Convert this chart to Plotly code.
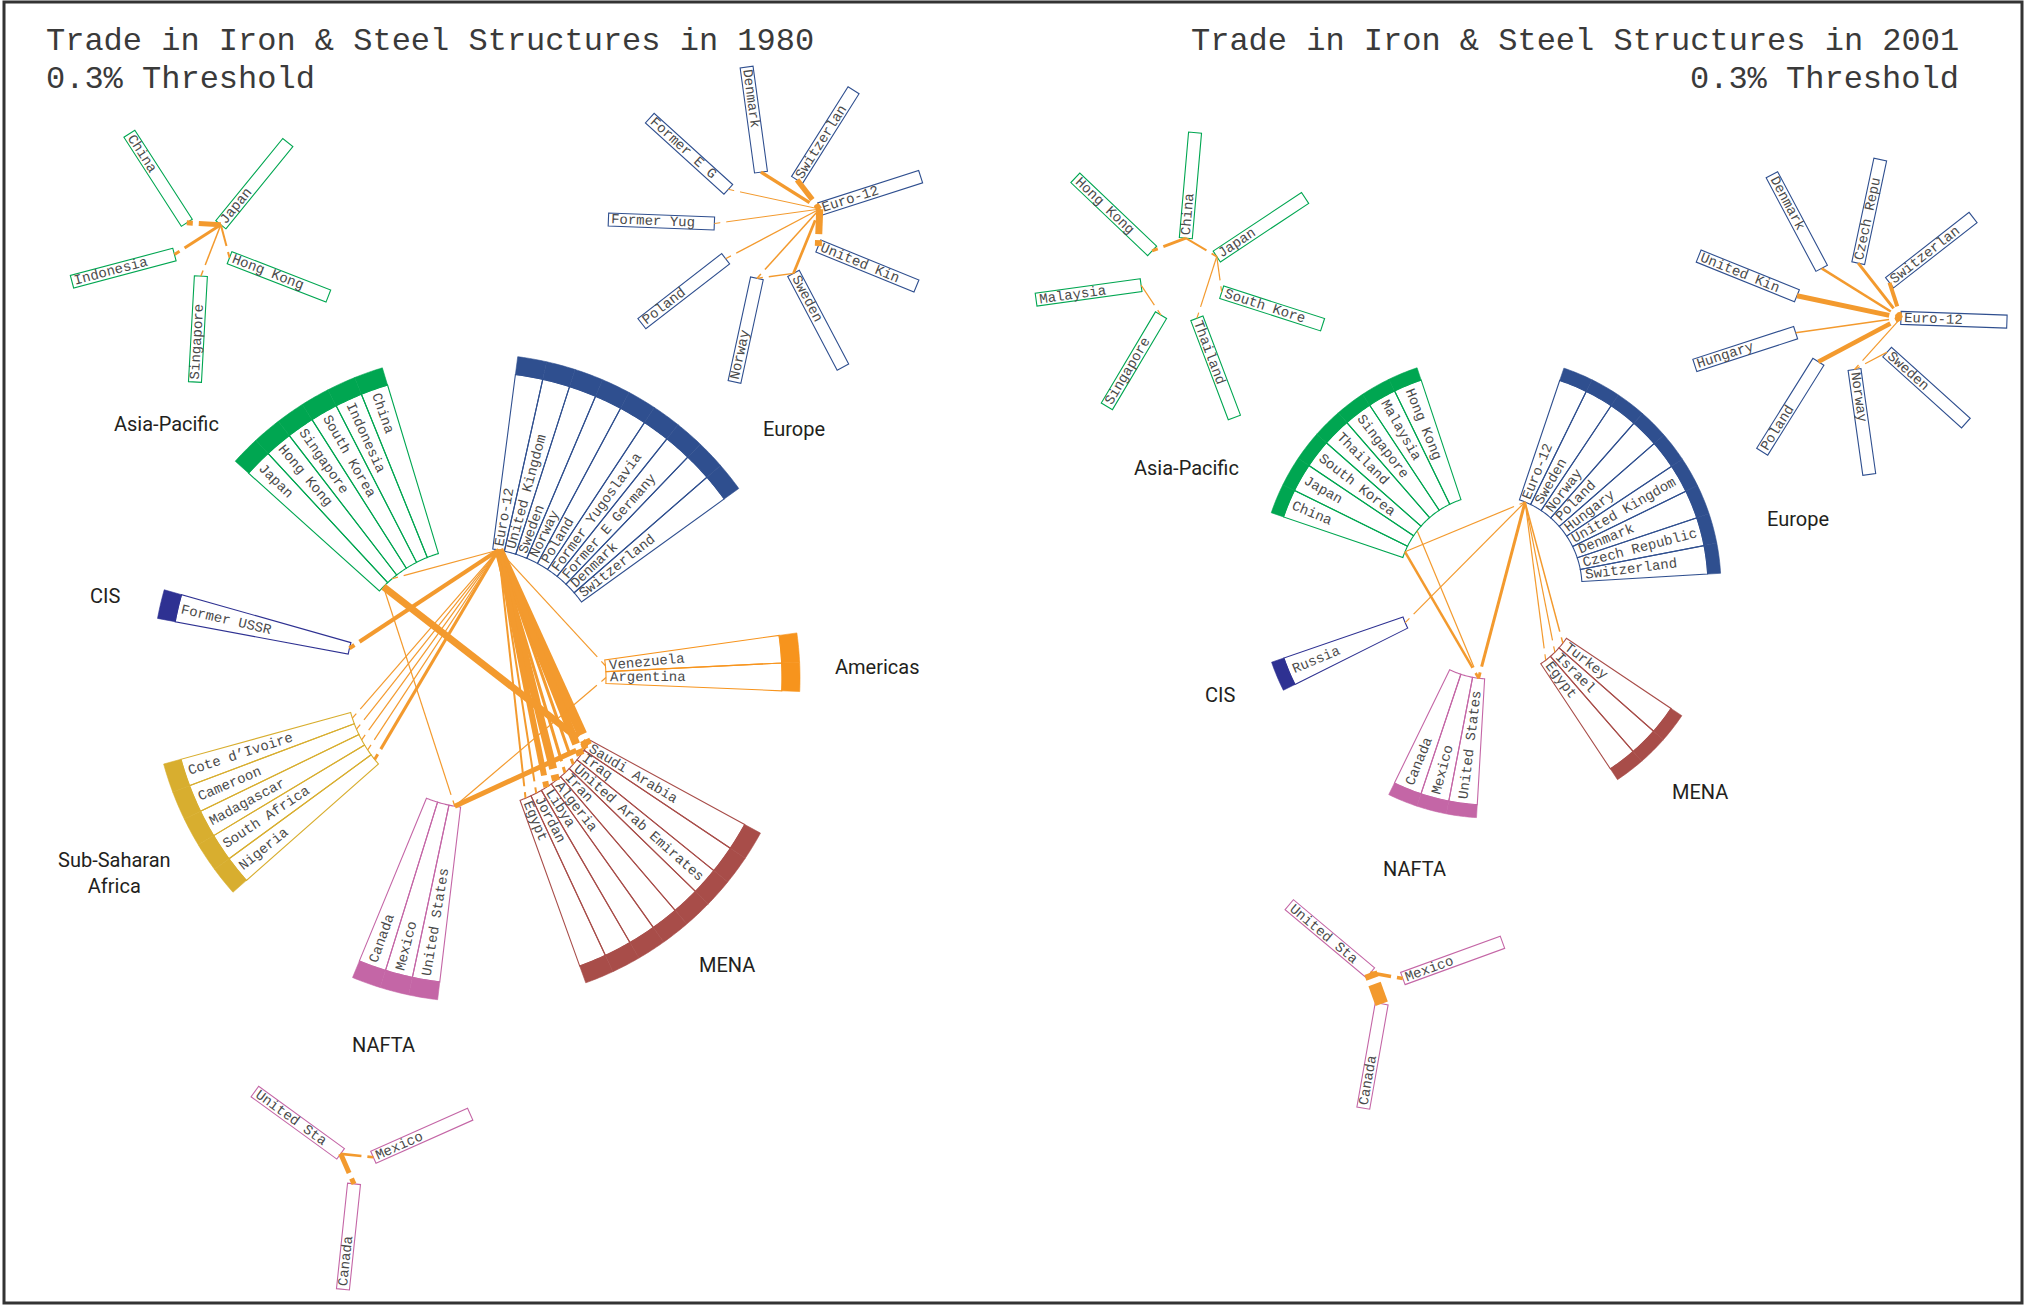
import math
import plotly.graph_objects as go

# ------------------------------------------------------------------ text
TITLE_1980 = "Trade in Iron & Steel Structures in 1980"
TITLE_2001 = "Trade in Iron & Steel Structures in 2001"
THRESHOLD = "0.3% Threshold"

# ------------------------------------------------------------------ 1980 regional fan (countries counter-clockwise)
R80_AMERICAS = ["Argentina", "Venezuela"]
R80_EUROPE = ["Switzerland", "Denmark", "Former E Germany", "Former Yugoslavia",
              "Poland", "Norway", "Sweden", "United Kingdom", "Euro-12"]
R80_ASIA = ["China", "Indonesia", "South Korea", "Singapore", "Hong Kong", "Japan"]
R80_CIS = ["Former USSR"]
R80_SSA = ["Cote d\u2019Ivoire", "Cameroon", "Madagascar", "South Africa", "Nigeria"]
R80_NAFTA = ["Canada", "Mexico", "United States"]
R80_MENA = ["Egypt", "Jordan", "Libya", "Algeria", "Iran",
            "United Arab Emirates", "Iraq", "Saudi Arabia"]

# inter-regional flows 1980 (exporter -> importer, volume as drawn width)
F80_FROM = ["Euro-12", "Euro-12", "Euro-12", "Euro-12", "Euro-12", "Euro-12", "Euro-12", "Euro-12",
            "Euro-12", "Euro-12", "Euro-12", "Euro-12", "Euro-12", "Euro-12", "Euro-12", "Euro-12",
            "Japan", "Japan", "United States", "United States"]
F80_TO = ["Saudi Arabia", "Iraq", "United Arab Emirates", "Iran", "Algeria", "Libya", "Jordan", "Egypt",
          "Former USSR", "Cote d\u2019Ivoire", "Cameroon", "Madagascar", "South Africa", "Nigeria",
          "Venezuela", "Hong Kong",
          "Saudi Arabia", "United States", "Saudi Arabia", "Argentina"]
F80_VOL = [10, 8, 3, 3, 8, 6, 2, 2,
           4, 1.2, 1.2, 1.2, 1.2, 3,
           1.2, 1.2,
           7, 1.2, 5, 1.2]

# intra-regional stars 1980 (boxes clockwise)
S80_ASIA = ["China", "Japan", "Hong Kong", "Singapore", "Indonesia"]
S80_ASIA_FROM = ["Japan", "Japan", "Japan", "Japan"]
S80_ASIA_TO = ["China", "Indonesia", "Singapore", "Hong Kong"]
S80_ASIA_VOL = [5, 3, 1.5, 2]

S80_EUROPE = ["Denmark", "Switzerland", "Euro-12", "United Kingdom", "Sweden",
              "Norway", "Poland", "Former Yugoslavia", "Former E Germany"]
S80_EUROPE_FROM = ["Denmark", "Switzerland", "Euro-12", "Sweden", "Euro-12", "Euro-12",
                   "Euro-12", "Euro-12", "Sweden"]
S80_EUROPE_TO = ["Euro-12", "Euro-12", "United Kingdom", "Euro-12", "Former E Germany",
                 "Former Yugoslavia", "Poland", "Norway", "Norway"]
S80_EUROPE_VOL = [3.3, 5.5, 7, 2.7, 1, 1, 1.2, 1.5, 1.5]

S80_NAFTA = ["United States", "Mexico", "Canada"]
S80_NAFTA_FROM = ["United States", "United States"]
S80_NAFTA_TO = ["Canada", "Mexico"]
S80_NAFTA_VOL = [5, 2.7]

# ------------------------------------------------------------------ 2001 regional fan
R01_EUROPE = ["Switzerland", "Czech Republic", "Denmark", "United Kingdom", "Hungary",
              "Poland", "Norway", "Sweden", "Euro-12"]
R01_ASIA = ["Hong Kong", "Malaysia", "Singapore", "Thailand", "South Korea", "Japan", "China"]
R01_CIS = ["Russia"]
R01_NAFTA = ["Canada", "Mexico", "United States"]
R01_MENA = ["Egypt", "Israel", "Turkey"]

F01_FROM = ["China", "South Korea", "Euro-12", "China", "Euro-12", "Euro-12", "Euro-12", "Euro-12"]
F01_TO = ["United States", "United States", "United States", "Euro-12", "Russia",
          "Egypt", "Israel", "Turkey"]
F01_VOL = [2.5, 1.2, 3, 1.2, 1.2, 1.2, 1.2, 1.5]

S01_ASIA = ["China", "Japan", "South Korea", "Thailand", "Singapore", "Malaysia", "Hong Kong"]
S01_ASIA_FROM = ["China", "China", "Japan", "Japan", "Malaysia"]
S01_ASIA_TO = ["Hong Kong", "Japan", "South Korea", "Thailand", "Singapore"]
S01_ASIA_VOL = [3, 2, 1.2, 1.2, 1.2]

S01_EUROPE = ["Euro-12", "Sweden", "Norway", "Poland", "Hungary",
              "United Kingdom", "Denmark", "Czech Republic", "Switzerland"]
S01_EUROPE_FROM = ["United Kingdom", "Poland", "Czech Republic", "Denmark", "Switzerland",
                   "Hungary", "Euro-12", "Sweden"]
S01_EUROPE_TO = ["Euro-12", "Euro-12", "Euro-12", "Euro-12", "Euro-12",
                 "Euro-12", "Norway", "Norway"]
S01_EUROPE_VOL = [5, 4.5, 3, 2.5, 4, 1.5, 1.2, 1.2]

S01_NAFTA = ["United States", "Mexico", "Canada"]
S01_NAFTA_FROM = ["Canada", "United States"]
S01_NAFTA_TO = ["United States", "Mexico"]
S01_NAFTA_VOL = [13, 3.5]

# ------------------------------------------------------------------ styling / layout
W, H = 2028, 1306
MONO = "Liberation Mono, Courier New, monospace"
SANS = "Roboto, Open Sans, sans-serif"
TXT = "#4a4a4a"
FLOW = "#F39A2E"
COL = {"Asia-Pacific": "#00A651", "Europe": "#2F4F8F", "CIS": "#2E3192",
       "Americas": "#F7941D", "SSA": "#D8AE2F", "MENA": "#A84D49", "NAFTA": "#C466A6"}
FS = 14            # country label size
CH = 0.6 * FS      # monospace advance

fig = go.Figure()
shapes = []
annos = []


def pol(c, r, a):
    t = math.radians(a)
    return (c[0] + r * math.cos(t), c[1] - r * math.sin(t))


def arc(c, r, a0, a1, n=10):
    return [pol(c, r, a0 + (a1 - a0) * k / n) for k in range(n + 1)]


def path(pts, close=True):
    s = "M " + " L ".join(f"{x:.2f},{y:.2f}" for x, y in pts)
    return s + (" Z" if close else "")


def norm(a):
    return ((a + 180) % 360) - 180


def label(c, a, r_start_out, r_start_in, text):
    """Text along the radius: reads outward on the right, inward on the left."""
    L = len(text) * CH
    if math.cos(math.radians(a)) >= -1e-9:
        rc = r_start_out + L / 2
        ang = norm(-a)
    else:
        rc = r_start_in - L / 2
        ang = norm(180 - a)
    x, y = pol(c, rc, a)
    annos.append(dict(x=x, y=y, text=text, showarrow=False, textangle=ang,
                      xanchor="center", yanchor="middle",
                      font=dict(family=MONO, size=FS, color=TXT)))


def fan(c, names, start, step, r_in, r_bi, r_bo, color, anchors):
    for i, nm in enumerate(names):
        a0 = start + i * step
        a1 = a0 + step
        pts = [pol(c, r_in, a0), pol(c, r_bi, a0)] + arc(c, r_bi, a0, a1) + \
              [pol(c, r_in, a1)] + arc(c, r_in, a1, a0)
        shapes.append(dict(type="path", path=path(pts), line=dict(color=color, width=1.1),
                           fillcolor="rgba(0,0,0,0)"))
        band = arc(c, r_bi, a0, a1) + arc(c, r_bo, a1, a0)
        shapes.append(dict(type="path", path=path(band), line=dict(color=color, width=0.6),
                           fillcolor=color))
        am = (a0 + a1) / 2
        label(c, am, r_in + 4, r_bi - 4, nm)
        anchors[nm] = pol(c, r_in, am)


BOX_L, BOX_W = 106, 13


def star(c, names, r0, start, step, color, anchors):
    for i, nm in enumerate(names):
        a = start + i * step
        t = math.radians(a)
        px, py = math.sin(t) * BOX_W / 2, math.cos(t) * BOX_W / 2
        p0 = pol(c, r0, a)
        p1 = pol(c, r0 + BOX_L, a)
        pts = [(p0[0] + px, p0[1] + py), (p1[0] + px, p1[1] + py),
               (p1[0] - px, p1[1] - py), (p0[0] - px, p0[1] - py)]
        shapes.append(dict(type="path", path=path(pts), line=dict(color=color, width=1.1),
                           fillcolor="white"))
        label(c, a, r0 + 3, r0 + BOX_L - 3, nm[:10])
        anchors[nm] = p0


def flows(anchors, src, dst, vol):
    for s, d, w in zip(src, dst, vol):
        p, q = anchors[s], anchors[d]
        dx, dy = q[0] - p[0], q[1] - p[1]
        dist = math.hypot(dx, dy)
        ux, uy = dx / dist, dy / dist
        g1, g2 = 12, 6
        if dist > g1 + 6:
            e = (q[0] - ux * g1, q[1] - uy * g1)
            shapes.append(dict(type="line", x0=p[0], y0=p[1], x1=e[0], y1=e[1],
                               line=dict(color=FLOW, width=w)))
            b = (q[0] - ux * g2, q[1] - uy * g2)
            shapes.append(dict(type="line", x0=b[0], y0=b[1], x1=q[0], y1=q[1],
                               line=dict(color=FLOW, width=w)))
        else:
            shapes.append(dict(type="line", x0=p[0], y0=p[1], x1=q[0], y1=q[1],
                               line=dict(color=FLOW, width=w)))


# ---------------- 1980 main fan
C80 = (476, 678)
ST80 = 5.2
A80 = {}
fan(C80, R80_AMERICAS, -2.4, ST80, 130, 306, 324, COL["Americas"], A80)
fan(C80, R80_EUROPE, 35.8, ST80, 130, 306, 324, COL["Europe"], A80)
fan(C80, R80_ASIA, 106.8, ST80, 130, 306, 324, COL["Asia-Pacific"], A80)
fan(C80, R80_CIS, 164.2, ST80, 130, 306, 324, COL["CIS"], A80)
fan(C80, R80_SSA, 195.4, ST80, 130, 306, 324, COL["SSA"], A80)
fan(C80, R80_NAFTA, 247.6, ST80, 130, 306, 324, COL["NAFTA"], A80)
fan(C80, R80_MENA, 289.8, ST80, 130, 306, 324, COL["MENA"], A80)
flows(A80, F80_FROM, F80_TO, F80_VOL)

# ---------------- 1980 stars
SA = {}
star((202.5, 247.2), S80_ASIA, 29, 122.8, -72, COL["Asia-Pacific"], SA)
flows(SA, S80_ASIA_FROM, S80_ASIA_TO, S80_ASIA_VOL)
SE = {}
star((768.3, 225.6), S80_EUROPE, 54, 97.8, -40, COL["Europe"], SE)
flows(SE, S80_EUROPE_FROM, S80_EUROPE_TO, S80_EUROPE_VOL)
SN = {}
star((356, 1165), S80_NAFTA, 19, 144, -120, COL["NAFTA"], SN)
flows(SN, S80_NAFTA_FROM, S80_NAFTA_TO, S80_NAFTA_VOL)

# ---------------- 2001 main fan
C01 = (1490, 587)
ST01 = 7.55
B01 = {}
fan(C01, R01_EUROPE, 3.4, ST01, 92, 218, 231, COL["Europe"], B01)
fan(C01, R01_ASIA, 108.4, ST01, 92, 218, 231, COL["Asia-Pacific"], B01)
fan(C01, R01_CIS, 199.0, ST01, 92, 218, 231, COL["CIS"], B01)
fan(C01, R01_NAFTA, 244.0, ST01, 92, 218, 231, COL["NAFTA"], B01)
fan(C01, R01_MENA, 303.5, ST01, 92, 218, 231, COL["MENA"], B01)
flows(B01, F01_FROM, F01_TO, F01_VOL)

# ---------------- 2001 stars
TA = {}
star((1182.2, 279.5), S01_ASIA, 41.5, 85, -360 / 7, COL["Asia-Pacific"], TA)
flows(TA, S01_ASIA_FROM, S01_ASIA_TO, S01_ASIA_VOL)
TE = {}
star((1847, 316), S01_EUROPE, 54, -2, -40, COL["Europe"], TE)
flows(TE, S01_EUROPE_FROM, S01_EUROPE_TO, S01_EUROPE_VOL)
TN = {}
star((1385, 985), S01_NAFTA, 19, 140, -120, COL["NAFTA"], TN)
flows(TN, S01_NAFTA_FROM, S01_NAFTA_TO, S01_NAFTA_VOL)

# ---------------- titles & region names
for (x, y, t, anc) in [(44, 41, TITLE_1980, "left"), (44, 79, THRESHOLD, "left"),
                       (1961, 41, TITLE_2001, "right"), (1961, 79, THRESHOLD, "right")]:
    annos.append(dict(x=x, y=y, text=t, showarrow=False, xanchor=anc, yanchor="middle",
                      font=dict(family=MONO, size=32, color="#3a3a3a")))

REGION_LABELS = [("Asia-Pacific", 166, 424), ("Europe", 794, 429), ("CIS", 105, 596),
                 ("Americas", 877, 667), ("Sub-Saharan<br>Africa", 114, 873),
                 ("MENA", 727, 965), ("NAFTA", 383, 1045),
                 ("Asia-Pacific", 1186, 468), ("Europe", 1798, 519), ("CIS", 1220, 695),
                 ("MENA", 1700, 792), ("NAFTA", 1414, 869)]
for t, x, y in REGION_LABELS:
    annos.append(dict(x=x, y=y, text=t, showarrow=False, xanchor="center", yanchor="middle",
                      font=dict(family=SANS, size=20, color="#231F20")))

shapes.append(dict(type="rect", x0=4, y0=2, x1=2022, y1=1303,
                   line=dict(color="#333333", width=3)))

fig.add_trace(go.Scatter(x=[0, W], y=[0, H], mode="markers", marker=dict(opacity=0),
                         hoverinfo="skip", showlegend=False))
fig.update_layout(width=W, height=H, margin=dict(l=0, r=0, t=0, b=0),
                  paper_bgcolor="white", plot_bgcolor="white",
                  xaxis=dict(range=[0, W], visible=False, fixedrange=True),
                  yaxis=dict(range=[H, 0], visible=False, fixedrange=True),
                  shapes=shapes, annotations=annos, showlegend=False)
fig.write_html("out.html", config={"displayModeBar": False},
               post_script="document.body.style.margin='0px';document.body.style.overflow='hidden';")
